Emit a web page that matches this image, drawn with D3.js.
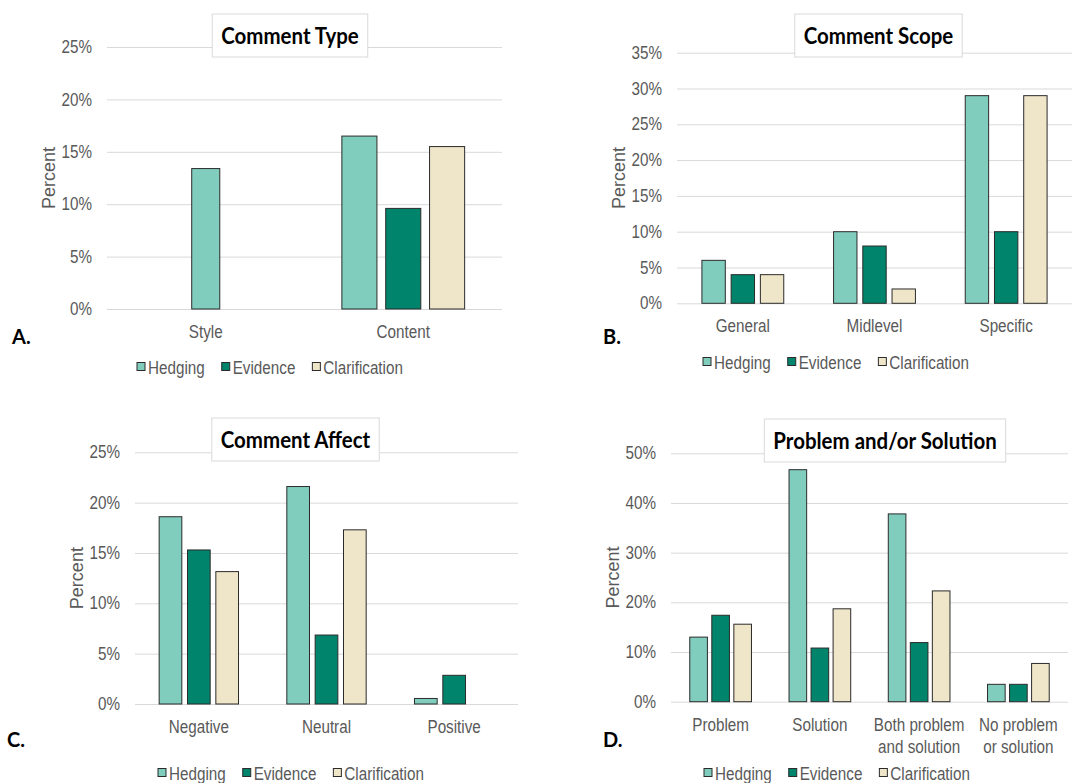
<!doctype html>
<html>
<head>
<meta charset="utf-8">
<style>
    body { margin: 0; background: #fff; }
    svg { display: block; }
    .grid line { stroke: #d9d9d9; stroke-width: 1; }
    .grid path { stroke-width: 0; }
    text.lab, .ytick text {
        font-family: 'Liberation Sans', Arial, sans-serif;
        font-size: 17.5px;
        fill: #595959;
    }
    text.title {
        font-family: Lato, sans-serif;
        font-weight: 700;
        font-size: 22px;
        fill: #000;
    }
    text.letter {
        font-family: Lato, sans-serif;
        font-weight: 700;
        font-size: 20px;
        fill: #000;
    }
    rect.box { fill: #fff; stroke: #d9d9d9; stroke-width: 1; }
    rect.bar, rect.key { stroke: #2b2b2b; stroke-width: 1; }
</style>
<script src="https://d3js.org/d3.v7.min.js"></script>
</head>
<body>
<svg width="1072" height="783"></svg>
<script>
    const seriesNames = ['Hedging', 'Evidence', 'Clarification'];
    const colors = ['#80cdbe', '#00846b', '#efe5c9'];

    // A. comment type
    const categoriesA = ['Style', 'Content'];
    const hedgingA = [13.4, 16.5];
    const evidenceA = [null, 9.6];
    const clarificationA = [null, 15.5];
    const ticksA = [0, 5, 10, 15, 20, 25];

    // B. comment scope
    const categoriesB = ['General', 'Midlevel', 'Specific'];
    const hedgingB = [6, 10, 29];
    const evidenceB = [4, 8, 10];
    const clarificationB = [4, 2, 29];
    const ticksB = [0, 5, 10, 15, 20, 25, 30, 35];

    // C. comment affect
    const categoriesC = ['Negative', 'Neutral', 'Positive'];
    const hedgingC = [18.6, 21.6, 0.55];
    const evidenceC = [15.3, 6.85, 2.85];
    const clarificationC = [13.15, 17.3, 0];
    const ticksC = [0, 5, 10, 15, 20, 25];

    // D. problem and/or solution
    const categoriesD = ['Problem', 'Solution', 'Both problem\nand solution', 'No problem\nor solution'];
    const hedgingD = [13.0, 46.7, 37.8, 3.5];
    const evidenceD = [17.4, 10.8, 11.9, 3.5];
    const clarificationD = [15.6, 18.7, 22.3, 7.7];
    const ticksD = [0, 10, 20, 30, 40, 50];

    const panels = [
        { letter: 'A.', title: 'Comment Type', categories: categoriesA, values: [hedgingA, evidenceA, clarificationA], ticks: ticksA,
          left: 107, right: 502, top: 47, bottom: 309, titleX: 290, titleY: 14, letterX: 12, letterY: 344, legendX: 137, legendY: 367 },
        { letter: 'B.', title: 'Comment Scope', categories: categoriesB, values: [hedgingB, evidenceB, clarificationB], ticks: ticksB,
          left: 677, right: 1072, top: 52.7, bottom: 303.3, titleX: 878.5, titleY: 14, letterX: 603, letterY: 344, legendX: 703, legendY: 362 },
        { letter: 'C.', title: 'Comment Affect', categories: categoriesC, values: [hedgingC, evidenceC, clarificationC], ticks: ticksC,
          left: 135, right: 518, top: 452.3, bottom: 704, titleX: 295.5, titleY: 418, letterX: 7, letterY: 747, legendX: 158, legendY: 773 },
        { letter: 'D.', title: 'Problem and/or Solution', categories: categoriesD, values: [hedgingD, evidenceD, clarificationD], ticks: ticksD,
          left: 671, right: 1068, top: 453.3, bottom: 701.7, titleX: 885, titleY: 419, letterX: 603, letterY: 747, legendX: 704, legendY: 773 }
    ];

    const svg = d3.select('svg');

    // squeeze text horizontally, the source image is stretched vertically
    function squeeze(sel, f) {
        sel.each(function () {
            const w = this.getComputedTextLength();
            d3.select(this).attr('textLength', w * f).attr('lengthAdjust', 'spacingAndGlyphs');
        });
    }

    function drawPanel(p) {
        const g = svg.append('g');
        const width = p.right - p.left;

        const x = d3.scaleBand()
            .domain(p.categories)
            .range([p.left, p.right]);

        const y = d3.scaleLinear()
            .domain([0, d3.max(p.ticks)])
            .range([p.bottom, p.top]);

        g.append('g')
            .attr('class', 'grid')
            .attr('transform', `translate(${p.left}, 0)`)
            .call(d3.axisLeft(y).tickValues(p.ticks).tickSize(-width).tickFormat(''))
            .call(a => a.select('.domain').remove());

        g.append('g')
            .attr('class', 'ytick')
            .attr('transform', `translate(${p.left}, 0)`)
            .call(d3.axisLeft(y).tickValues(p.ticks).tickSize(0).tickPadding(15).tickFormat(d => d + '%'))
            .call(a => a.select('.domain').remove())
            .selectAll('text').call(squeeze, 0.87);

        // bars, missing values close up around the category centre
        const bw = x.bandwidth();
        p.categories.forEach((c, i) => {
            const vals = seriesNames
                .map((s, k) => ({ key: s, k: k, v: p.values[k][i] }))
                .filter(d => d.v !== null);
            const span = bw * 0.222 * (vals.length - 0.2);
            const mid = x(c) + bw / 2;
            const inner = d3.scaleBand()
                .domain(vals.map(d => d.key))
                .range([mid - span / 2, mid + span / 2])
                .paddingInner(0.2);

            g.selectAll(null)
                .data(vals.filter(d => d.v > 0))
                .enter()
                .append('rect')
                .attr('class', 'bar')
                .attr('x', d => inner(d.key))
                .attr('y', d => y(d.v))
                .attr('width', inner.bandwidth())
                .attr('height', d => p.bottom - y(d.v))
                .attr('fill', d => colors[d.k]);

            c.split('\n').forEach((line, j) => {
                g.append('text')
                    .attr('class', 'lab')
                    .attr('x', mid)
                    .attr('y', p.bottom + 29 + j * 22.5)
                    .attr('text-anchor', 'middle')
                    .text(line)
                    .call(squeeze, 0.87);
            });
        });

        // rotated, so it gets the stretch instead of the squeeze
        g.append('text')
            .attr('class', 'lab')
            .attr('transform', `translate(${p.left - 58}, ${(p.top + p.bottom) / 2}) rotate(-90)`)
            .attr('dy', '0.35em')
            .attr('text-anchor', 'middle')
            .text('Percent')
            .call(squeeze, 1.03);

        // title in a box
        const tg = g.append('g');
        const box = tg.append('rect').attr('class', 'box');
        const tt = tg.append('text')
            .attr('class', 'title')
            .attr('x', p.titleX)
            .attr('y', p.titleY + 29.5)
            .attr('text-anchor', 'middle')
            .text(p.title)
            .call(squeeze, 0.93);
        const tw = +tt.attr('textLength');
        box.attr('x', p.titleX - tw / 2 - 9)
            .attr('y', p.titleY)
            .attr('width', tw + 18)
            .attr('height', 43);

        g.append('text')
            .attr('class', 'letter')
            .attr('x', p.letterX)
            .attr('y', p.letterY)
            .text(p.letter);

        // legend
        let lx = p.legendX;
        seriesNames.forEach((s, k) => {
            g.append('rect')
                .attr('class', 'key')
                .attr('x', lx)
                .attr('y', p.legendY - 4.5)
                .attr('width', 8)
                .attr('height', 8)
                .attr('fill', colors[k]);
            const t = g.append('text')
                .attr('class', 'lab')
                .attr('x', lx + 11)
                .attr('y', p.legendY + 6.5)
                .text(s)
                .call(squeeze, 0.87);
            lx += 11 + (+t.attr('textLength')) + 17;
        });
    }

    panels.forEach(drawPanel);
</script>
</body>
</html>
